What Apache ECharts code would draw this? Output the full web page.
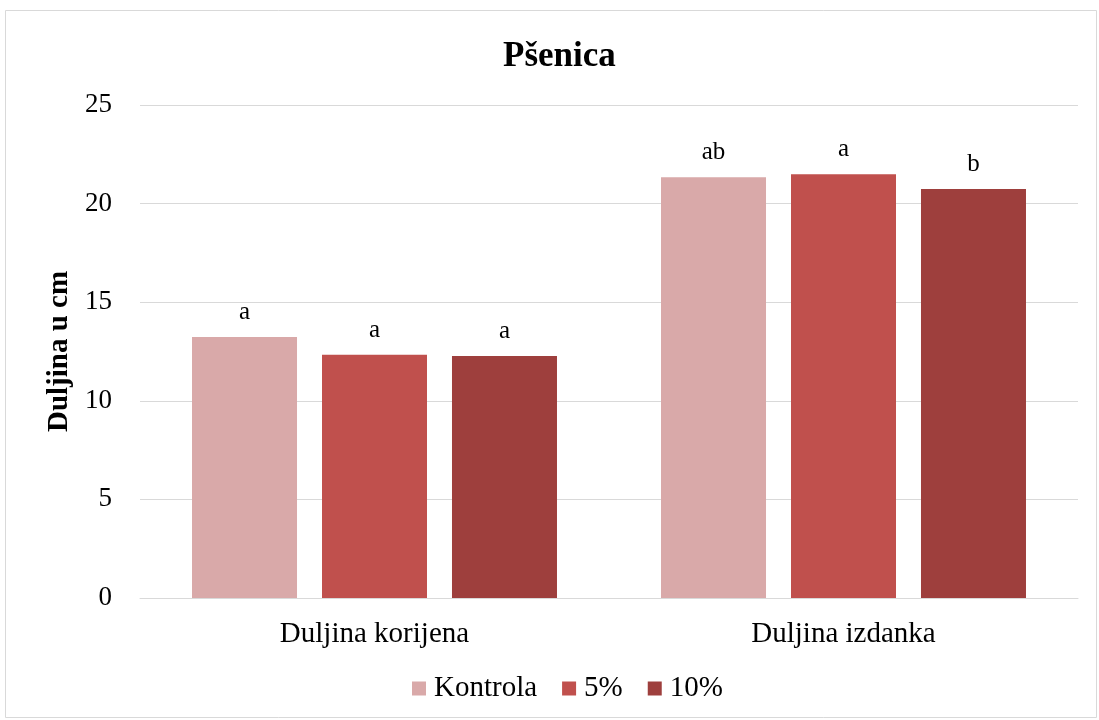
<!DOCTYPE html>
<html>
<head>
<meta charset="utf-8">
<script src="https://cdn.jsdelivr.net/npm/echarts@6/dist/echarts.min.js"></script>
<style>
  html, body { margin: 0; padding: 0; background: #fff; }
  #chart { width: 1099px; height: 720px; }
</style>
</head>
<body>
<div id="chart"></div>
<script>
const categories = ['Duljina korijena', 'Duljina izdanka']
const seriesNames = ['Kontrola', '5%', '10%']
const kontrola = [13.24, 21.33]
const pet = [12.34, 21.49]
const deset = [12.27, 20.74]
const kontrolaLetters = ['a', 'ab']
const petLetters = ['a', 'a']
const desetLetters = ['a', 'b']
const yTicks = [0, 5, 10, 15, 20, 25]

const colors = ['#D9A9A9', '#C0504D', '#9E3F3D']
const font = '"Liberation Serif", "Times New Roman", serif'

const chart = echarts.init(document.getElementById('chart'))

function makeSeries(name, data, letters, idx) {
  return {
    name: name,
    type: 'bar',
    data: data,
    barWidth: 105,
    barGap: '23.8%',
    itemStyle: { color: colors[idx] },
    label: {
      show: true,
      position: 'top',
      distance: 12,
      color: '#000',
      fontFamily: font,
      fontSize: 25,
      formatter: (p) => letters[p.dataIndex]
    }
  }
}

const option = {
  animation: false,
  backgroundColor: '#fff',
  graphic: [{
    type: 'rect',
    shape: { x: 5.5, y: 10.5, width: 1091, height: 707 },
    style: { fill: 'none', stroke: '#d9d9d9', lineWidth: 1 },
    silent: true
  }],
  title: {
    text: 'Pšenica',
    left: 498,
    top: 34,
    textStyle: { fontFamily: font, fontSize: 35, fontWeight: 'bold', color: '#000' }
  },
  legend: {
    bottom: 12,
    left: 407,
    icon: 'rect',
    itemWidth: 14,
    itemHeight: 14,
    itemGap: 25,
    textStyle: { fontFamily: font, fontSize: 29, color: '#000', padding: [0, 0, 0, 3] },
    data: seriesNames
  },
  grid: {
    left: 140,
    right: 21,
    top: 105,
    bottom: 122,
    containLabel: false
  },
  xAxis: {
    type: 'category',
    data: categories,
    axisLine: { show: true, lineStyle: { color: '#d9d9d9', width: 1 } },
    axisTick: { show: false },
    axisLabel: { color: '#000', fontFamily: font, fontSize: 29, margin: 22 }
  },
  yAxis: {
    type: 'value',
    min: yTicks[0],
    max: yTicks[yTicks.length - 1],
    interval: 5,
    name: 'Duljina u cm',
    nameLocation: 'middle',
    nameGap: 63,
    nameTextStyle: { fontFamily: font, fontSize: 29, fontWeight: 'bold', color: '#000' },
    axisLine: { show: false },
    axisTick: { show: false },
    splitLine: { lineStyle: { color: '#d9d9d9', width: 1 } },
    axisLabel: { color: '#000', fontFamily: font, fontSize: 27, margin: 28 }
  },
  series: [
    makeSeries(seriesNames[0], kontrola, kontrolaLetters, 0),
    makeSeries(seriesNames[1], pet, petLetters, 1),
    makeSeries(seriesNames[2], deset, desetLetters, 2)
  ]
}

chart.setOption(option)
</script>
</body>
</html>
